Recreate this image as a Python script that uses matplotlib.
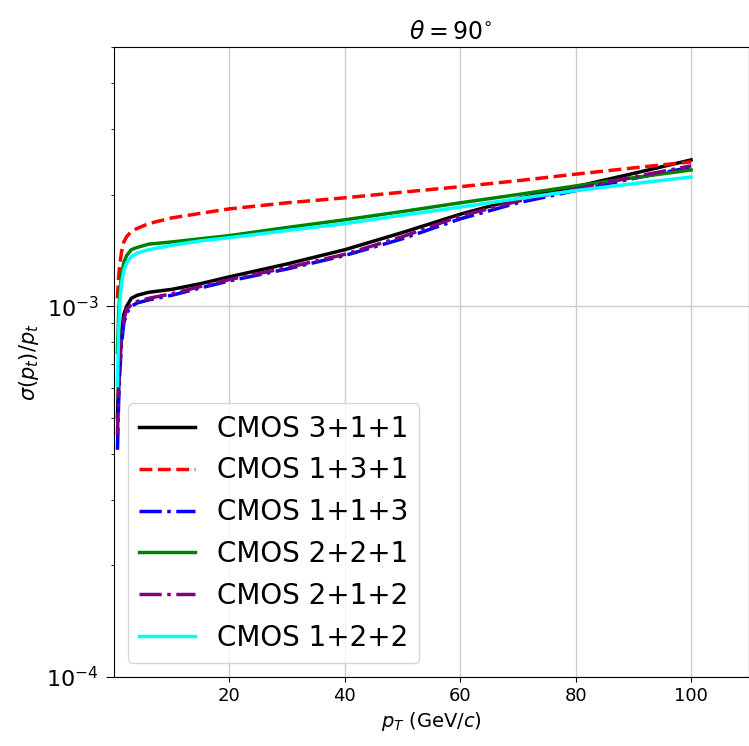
import matplotlib
matplotlib.use("Agg")
import matplotlib.pyplot as plt

# pT points (GeV/c)
pt = [0.6, 0.8, 1.0, 1.3, 1.7, 2.2, 3, 4, 6, 10, 15, 20, 30, 40, 50, 60, 70, 80, 90, 100]

# sigma(pt)/pt in units of 1e-3
cmos_311 = [0.50, 0.64, 0.73, 0.85, 0.95, 1.00, 1.05, 1.07, 1.09, 1.11, 1.15, 1.20,
            1.30, 1.42, 1.58, 1.77, 1.95, 2.10, 2.28, 2.48]
cmos_131 = [1.05, 1.20, 1.29, 1.40, 1.49, 1.54, 1.59, 1.62, 1.67, 1.73, 1.78, 1.83,
            1.90, 1.96, 2.03, 2.10, 2.18, 2.27, 2.36, 2.45]
cmos_113 = [0.41, 0.55, 0.66, 0.79, 0.90, 0.96, 1.00, 1.02, 1.04, 1.07, 1.12, 1.17,
            1.26, 1.37, 1.52, 1.72, 1.90, 2.05, 2.21, 2.37]
cmos_221 = [0.75, 0.95, 1.08, 1.21, 1.31, 1.37, 1.42, 1.44, 1.47, 1.49, 1.52, 1.55,
            1.63, 1.71, 1.80, 1.90, 2.00, 2.11, 2.22, 2.33]
cmos_212 = [0.45, 0.58, 0.69, 0.82, 0.92, 0.98, 1.01, 1.03, 1.05, 1.08, 1.13, 1.18,
            1.27, 1.38, 1.54, 1.75, 1.92, 2.07, 2.23, 2.39]
cmos_122 = [0.61, 0.85, 1.02, 1.15, 1.25, 1.31, 1.36, 1.39, 1.42, 1.46, 1.50, 1.53,
            1.60, 1.67, 1.76, 1.85, 1.95, 2.05, 2.14, 2.23]

series = [
    ("CMOS 3+1+1", cmos_311, "black", "-"),
    ("CMOS 1+3+1", cmos_131, "red", "--"),
    ("CMOS 1+1+3", cmos_113, "blue", "-."),
    ("CMOS 2+2+1", cmos_221, "green", "-"),
    ("CMOS 2+1+2", cmos_212, "purple", "-."),
    ("CMOS 1+2+2", cmos_122, "cyan", "-"),
]

fig = plt.figure(figsize=(7.49, 7.46), dpi=100)
ax = fig.add_axes([0.1522, 0.0925, 0.8475, 0.8445])

for label, vals, color, ls in series:
    ax.plot(pt, [v * 1e-3 for v in vals], color=color, ls=ls, lw=2.5, label=label)

ax.set_yscale("log")
ax.set_xlim(0, 110)
ax.set_ylim(1e-4, 5e-3)
ax.set_xticks([20, 40, 60, 80, 100])
ax.tick_params(axis="x", labelsize=13)
ax.tick_params(axis="y", labelsize=16, length=6, pad=5)
ax.grid(True, which="major", color="#cccccc", lw=1)

ax.set_title(r"$\theta=90^{\circ}$", fontsize=17, x=0.53)
ax.set_xlabel(r"$p_T$ (GeV/$c$)", fontsize=14)
ax.set_ylabel(r"$\sigma(p_t)/p_t$", fontsize=15)
ax.legend(loc="lower left", fontsize=20)

fig.savefig("out.png", dpi=100)
